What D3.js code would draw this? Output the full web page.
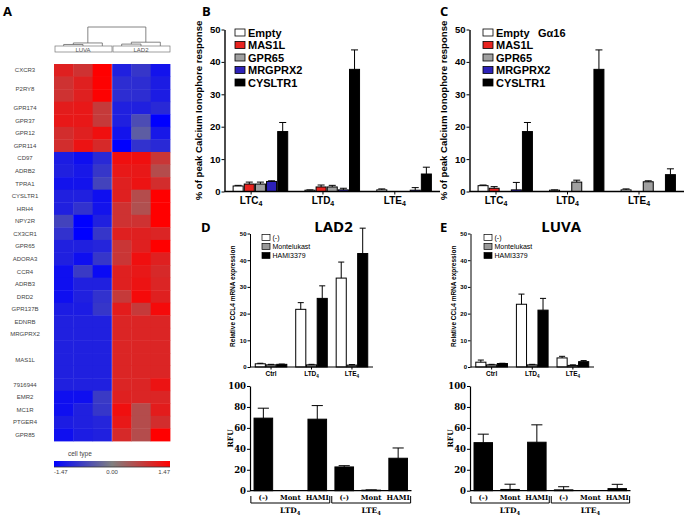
<!DOCTYPE html>
<html>
<head>
<meta charset="utf-8">
<title>Leukotriene receptor figure</title>
<script src="https://cdn.jsdelivr.net/npm/d3@7"></script>
<style>
  body { margin: 0; background: #fff; }
  svg text { font-family: "Liberation Sans", Arial, sans-serif; }
</style>
</head>
<body>
<svg id="fig" width="685" height="516"></svg>
<script>
// ---- data: panel A heatmap ----
const hmSamples = ["LUVA", "LUVA", "LUVA", "LAD2", "LAD2", "LAD2"];
const hmGenes = ["CXCR3", "P2RY8", "P2RY8", "GPR174", "GPR37", "GPR12", "GPR114", "CD97", "ADRB2", "TPRA1",
  "CYSLTR1", "HRH4", "NPY2R", "CX3CR1", "GPR65", "ADORA3", "CCR4", "ADRB3", "DRD2", "GPR137B",
  "EDNRB", "MRGPRX2", "MAS1L", "MAS1L", "MAS1L", "7916944", "EMR2", "MC1R", "PTGER4", "GPR85"];
const hmValues = [
  [1.1, 0.9, 1.47, -1.1, -0.85, -1.25],
  [0.9, 1.1, 1.45, -0.95, -0.95, -1.15],
  [0.9, 1.1, 1.45, -0.95, -0.95, -1.15],
  [1.15, 1.2, 0.8, -1.1, -1.1, -1.0],
  [1.2, 1.2, 0.8, -1.1, -0.6, -1.47],
  [0.95, 1.1, 1.3, -1.25, -0.4, -1.2],
  [0.95, 1.25, 1.0, -1.47, -0.9, -1.0],
  [-1.15, -1.3, -1.0, 1.3, 1.3, 0.85],
  [-1.1, -1.2, -0.85, 1.2, 1.2, 0.6],
  [-1.25, -1.25, -0.7, 1.1, 1.25, 0.95],
  [-1.1, -1.1, -1.3, 1.1, 0.6, 1.47],
  [-1.1, -0.9, -1.25, 0.9, 0.55, 1.47],
  [-0.7, -1.47, -1.1, 0.9, 0.9, 1.47],
  [-0.9, -1.47, -0.85, 1.1, 1.1, 1.05],
  [-1.1, -1.1, -1.05, 0.85, 1.1, 1.47],
  [-1.1, -1.3, -0.85, 0.85, 1.3, 1.1],
  [-1.3, -0.8, -1.35, 1.1, 1.2, 1.0],
  [-1.3, -1.1, -1.1, 1.1, 1.25, 1.05],
  [-1.3, -1.1, -0.9, 0.8, 1.35, 1.1],
  [-1.15, -1.15, -0.85, 1.15, 0.8, 1.35],
  [-1.1, -1.1, -1.1, 1.05, 1.05, 1.05],
  [-1.1, -1.1, -1.1, 1.05, 1.05, 1.05],
  [-1.1, -1.1, -1.1, 1.05, 1.05, 1.05],
  [-1.1, -1.1, -1.1, 1.05, 1.05, 1.05],
  [-1.1, -1.1, -1.1, 1.05, 1.05, 1.05],
  [-1.1, -1.1, -1.1, 1.05, 1.05, 1.25],
  [-1.3, -1.3, -0.8, 1.1, 1.05, 1.05],
  [-1.3, -1.1, -0.85, 1.3, 0.6, 1.15],
  [-1.15, -1.1, -1.05, 1.2, 0.6, 0.95],
  [-1.3, -1.15, -1.1, 1.0, 0.6, 1.47]
];
const hmLegendTicks = [-1.47, 0, 1.47];
// dendrogram merge heights (relative)
const dendroTree = {h: 1, children: [
  {h: 0.16, children: [{h: 0.08, children: [{col: 0}, {col: 1}]}, {col: 2}]},
  {h: 0.2, children: [{h: 0.1, children: [{col: 3}, {col: 4}]}, {col: 5}]}
]};

// ---- data: panels B and C (calcium flux) ----
const ltCats = ["LTC4", "LTD4", "LTE4"];
const receptors = ["Empty", "MAS1L", "GPR65", "MRGPRX2", "CYSLTR1"];
const calcTicks = [0, 10, 20, 30, 40, 50];
const calcB = [[1.7, 2.3, 2.3, 3.1, 18.5], [0.4, 1.4, 1.4, 0.5, 37.7], [0.5, 0, 0, 0.4, 5.4]];
const calcBErr = [[0.2, 0.6, 0.6, 0.2, 2.8], [0.1, 0.6, 0.5, 0.5, 6.0], [0.3, 0, 0, 0.8, 2.1]];
const calcC = [[1.8, 1.0, 0, 0.5, 18.5], [0.4, 0, 2.9, 0, 37.7], [0.5, 0, 3.0, 0, 5.2]];
const calcCErr = [[0.2, 0.5, 0, 2.3, 2.8], [0.1, 0, 0.6, 0, 6.0], [0.3, 0, 0.3, 0, 1.8]];

// ---- data: panels D and E (CCL4 mRNA) ----
const mrnaCats = ["Ctrl", "LTD4", "LTE4"];
const treatments = ["(-)", "Montelukast", "HAMI3379"];
const mrnaTicks = [0, 10, 20, 30, 40, 50];
const lad2Mrna = [[1.2, 0.8, 1.0], [21.6, 0.8, 25.7], [33.3, 0.7, 42.5]];
const lad2MrnaErr = [[0.2, 0.2, 0.1], [2.5, 0.2, 4.7], [6.0, 0.2, 9.5]];
const luvaMrna = [[1.8, 0.8, 1.3], [23.5, 0.8, 21.3], [3.4, 0.6, 2.0]];
const luvaMrnaErr = [[0.8, 0.2, 0.1], [3.8, 0.2, 4.4], [0.6, 0.2, 0.4]];

// ---- data: panels D and E (RFU) ----
const rfuLabels = ["(-)", "Mont", "HAMI", "(-)", "Mont", "HAMI"];
const rfuGroups = [{name: "LTD4", from: 0, to: 2}, {name: "LTE4", from: 3, to: 5}];
const rfuTicks = [0, 20, 40, 60, 80, 100];
const lad2Rfu = [69.3, 0, 68.3, 22.7, 0.5, 31];
const lad2RfuErr = [9.5, 0, 13, 1.2, 0.3, 9.8];
const luvaRfu = [45.9, 1.2, 46.3, 0.8, 0, 2.0];
const luvaRfuErr = [8.1, 5.0, 16.6, 3.0, 0, 4.1];

// ---- styles ----
const recColors = ["#ffffff", "#e8231f", "#a0a0a0", "#2d21b8", "#000000"];
const treatColors = ["#ffffff", "#999999", "#000000"];
const serif = "'DejaVu Serif', serif";

const svg = d3.select("#fig");

function subLabel(sel) {
  sel.each(function(d) {
    const t = d3.select(this);
    const m = String(d).match(/^(LT[A-Z])(\d)$/);
    t.text(null);
    if (m) {
      t.append("tspan").text(m[1]);
      t.append("tspan").attr("font-size", "70%").attr("dy", "0.35em").text(m[2]);
    } else {
      t.text(d);
    }
  });
}

function errorBars(g, rows, xc, y, capW) {
  g.selectAll(null).data(rows.filter(d => d.e > 0)).join("path")
    .attr("d", d => `M${xc(d)},${y(d.v)}V${y(d.v + d.e)}M${xc(d) - capW / 2},${y(d.v + d.e)}h${capW}`)
    .attr("stroke", "#000").attr("stroke-width", 1).attr("fill", "none");
}

// panel letters
const letters = [["A", 3, 16], ["B", 202, 16], ["C", 440, 16], ["D", 201, 232], ["E", 440, 232]];
svg.selectAll("text.letter").data(letters).join("text")
  .attr("x", d => d[1]).attr("y", d => d[2])
  .style("font-family", "'Open Sans', sans-serif").attr("font-weight", "bold").attr("font-size", 13)
  .text(d => d[0]);

// ================= Panel A =================
const hm = svg.append("g");
const hmX = d3.scaleBand().domain(d3.range(hmSamples.length)).range([54, 170]);
const hmY = d3.scaleBand().domain(d3.range(hmGenes.length)).range([64, 441]);
const hmColor = d3.scaleLinear().domain([-1.47, 0, 1.47]).range(["#0000ff", "#808080", "#ff0000"]);

hm.selectAll("g.row").data(hmValues).join("g")
  .each(function(row, i) {
    d3.select(this).selectAll("rect").data(row).join("rect")
      .attr("x", (d, j) => hmX(j)).attr("y", hmY(i))
      .attr("width", hmX.bandwidth() + 0.4).attr("height", hmY.bandwidth() + 0.4)
      .attr("fill", d => hmColor(d));
  });
hm.append("line").attr("x1", hmX(3)).attr("x2", hmX(3)).attr("y1", hmY(0)).attr("y2", hmY.range()[1])
  .attr("stroke", "#e8e8ff").attr("stroke-width", 0.6).attr("opacity", 0.6);

const runs = [];
hmGenes.forEach((g, i) => {
  const last = runs[runs.length - 1];
  if (last && last.name === g) last.end = i; else runs.push({name: g, start: i, end: i});
});
hm.selectAll("text.gene").data(runs).join("text")
  .attr("x", 25).attr("y", d => (hmY(d.start) + hmY(d.end) + hmY.bandwidth()) / 2 + 2.2)
  .attr("text-anchor", "middle").attr("font-size", 6).attr("fill", "#444")
  .text(d => d.name);

// dendrogram
const dY = d3.scaleLinear().domain([0, 1]).range([46, 27]);
const root = d3.hierarchy(dendroTree);
root.eachAfter(n => {
  n.px = n.children ? d3.mean(n.children, c => c.px) : hmX(n.data.col) + hmX.bandwidth() / 2;
  n.py = dY(n.data.h || 0);
});
hm.selectAll("path.link").data(root.descendants().filter(n => n.children)).join("path")
  .attr("d", n => {
    const [a, b] = n.children;
    return `M${a.px},${a.py}V${n.py}H${b.px}V${b.py}`;
  })
  .attr("fill", "none").attr("stroke", "#666").attr("stroke-width", 0.8);

const clusters = Array.from(d3.group(hmSamples.map((s, i) => ({s, i})), d => d.s), ([name, v]) => ({name, from: v[0].i, to: v[v.length - 1].i}));
hm.selectAll("rect.cl").data(clusters).join("rect")
  .attr("x", d => hmX(d.from) + 1).attr("y", 46)
  .attr("width", d => hmX(d.to) + hmX.bandwidth() - hmX(d.from) - 1).attr("height", 6)
  .attr("fill", "#fff").attr("stroke", "#777").attr("stroke-width", 0.7);
hm.selectAll("text.cl").data(clusters).join("text")
  .attr("x", d => (hmX(d.from) + hmX(d.to) + hmX.bandwidth()) / 2).attr("y", 51.5)
  .attr("text-anchor", "middle").attr("font-size", 6).attr("fill", "#555").text(d => d.name);

// colour bar
const grad = svg.append("defs").append("linearGradient").attr("id", "hmgrad");
grad.selectAll("stop").data(d3.range(0, 1.01, 0.1)).join("stop")
  .attr("offset", d => d)
  .attr("stop-color", d => hmColor(-1.47 + d * 2.94));
const cbX = d3.scaleLinear().domain([-1.47, 1.47]).range([54, 170]);
hm.append("text").attr("x", 68).attr("y", 456).attr("font-size", 6.5).attr("fill", "#444").text("cell type");
hm.append("rect").attr("x", 54).attr("y", 461).attr("width", 116).attr("height", 6).attr("fill", "url(#hmgrad)");
hm.append("line").attr("x1", 54).attr("x2", 170).attr("y1", 467).attr("y2", 467).attr("stroke", "#333").attr("stroke-width", 0.8);
hm.selectAll("text.cb").data(hmLegendTicks).join("text")
  .attr("x", d => cbX(d)).attr("y", 474)
  .attr("text-anchor", (d, i) => i === 0 ? "start" : i === hmLegendTicks.length - 1 ? "end" : "middle")
  .attr("font-size", 6).attr("fill", "#444").text(d => d.toFixed(2));

// ================= Panels B, C =================
function calciumPanel(means, sems, o) {
  const g = svg.append("g");
  const x0 = d3.scaleBand().domain(ltCats).range([o.left, o.right]).paddingInner(0.24).paddingOuter(0.12);
  const x1 = d3.scaleBand().domain(receptors).range([0, x0.bandwidth()]).paddingInner(0.1);
  const y = d3.scaleLinear().domain([0, 50]).range([191.5, 29.5]);
  const rows = ltCats.flatMap((c, i) => receptors.map((r, j) => ({c, r, j, v: means[i][j], e: sems[i][j]})));

  g.selectAll("rect.bar").data(rows.filter(d => d.v > 0)).join("rect")
    .attr("x", d => x0(d.c) + x1(d.r)).attr("width", x1.bandwidth())
    .attr("y", d => y(d.v)).attr("height", d => y(0) - y(d.v))
    .attr("fill", d => recColors[d.j]).attr("stroke", "#000").attr("stroke-width", 1);
  errorBars(g, rows, d => x0(d.c) + x1(d.r) + x1.bandwidth() / 2, y, x1.bandwidth() * 0.7);

  const ya = g.append("g").attr("transform", `translate(${o.left},0)`)
    .call(d3.axisLeft(y).tickValues(calcTicks).tickSize(3).tickPadding(1).tickSizeOuter(0));
  ya.select(".domain").attr("stroke-width", 1.4);
  ya.selectAll("text").attr("font-size", 9.5).attr("font-weight", "bold").style("font-family", "'Liberation Sans', Arial, sans-serif");

  g.append("line").attr("x1", o.left).attr("x2", o.right).attr("y1", y(0)).attr("y2", y(0))
    .attr("stroke", "#000").attr("stroke-width", 1.4);
  const lx = c => x0(c) + x0.bandwidth() * 0.33;
  g.selectAll("line.xt").data(ltCats).join("line")
    .attr("x1", lx).attr("x2", lx).attr("y1", y(0)).attr("y2", y(0) + 3).attr("stroke", "#000");
  g.selectAll("text.xl").data(ltCats).join("text")
    .attr("x", lx).attr("y", y(0) + 12).attr("text-anchor", "middle")
    .attr("font-size", 10).attr("font-weight", "bold").call(subLabel);

  g.append("text").attr("transform", `translate(${o.left - 22.5},${(y(0) + y(50)) / 2}) rotate(-90)`)
    .attr("text-anchor", "middle").attr("font-size", 9.6).attr("font-weight", "bold")
    .text("% of peak Calcium Ionophore response");

  const leg = g.selectAll("g.leg").data(receptors).join("g")
    .attr("transform", (d, i) => `translate(${o.legX},${32.5 + i * 12.5})`);
  leg.append("rect").attr("x", 0).attr("y", -3.5).attr("width", 10).attr("height", 7)
    .attr("fill", (d, i) => recColors[i]).attr("stroke", "#000").attr("stroke-width", 0.8);
  leg.append("text").attr("x", 13).attr("y", 4).attr("font-size", 11).attr("font-weight", "bold").text(d => d);
  if (o.note) {
    g.append("text").attr("x", o.note[0]).attr("y", o.note[1]).attr("font-size", 11).attr("font-weight", "bold").text(o.note[2]);
  }
}
calciumPanel(calcB, calcBErr, {left: 224.5, right: 440, legX: 235});
calciumPanel(calcC, calcCErr, {left: 469.5, right: 684, legX: 483, note: [538, 36.5, "G\u03b116"]});

// ================= Panels D, E: mRNA =================
function mrnaPanel(means, sems, o) {
  const g = svg.append("g");
  const x0 = d3.scaleBand().domain(mrnaCats).range([o.left, o.right]).paddingInner(0.22).paddingOuter(0.13);
  const x1 = d3.scaleBand().domain(treatments).range([0, x0.bandwidth()]).paddingInner(0.06);
  const y = d3.scaleLinear().domain([0, 50]).range([367, 233.5]);
  const rows = mrnaCats.flatMap((c, i) => treatments.map((t, j) => ({c, t, j, v: means[i][j], e: sems[i][j]})));

  g.selectAll("rect.bar").data(rows.filter(d => d.v > 0)).join("rect")
    .attr("x", d => x0(d.c) + x1(d.t)).attr("width", x1.bandwidth())
    .attr("y", d => y(d.v)).attr("height", d => y(0) - y(d.v))
    .attr("fill", d => treatColors[d.j]).attr("stroke", "#000").attr("stroke-width", 1);
  errorBars(g, rows, d => x0(d.c) + x1(d.t) + x1.bandwidth() / 2, y, x1.bandwidth() * 0.6);

  const ya = g.append("g").attr("transform", `translate(${o.left},0)`)
    .call(d3.axisLeft(y).tickValues(mrnaTicks).tickSize(2.5).tickPadding(1).tickSizeOuter(0));
  ya.select(".domain").attr("stroke-width", 1);
  ya.selectAll("text").attr("font-size", 6).attr("font-weight", "bold").style("font-family", "'Liberation Sans', Arial, sans-serif");

  g.append("line").attr("x1", o.left).attr("x2", o.right).attr("y1", y(0)).attr("y2", y(0))
    .attr("stroke", "#000").attr("stroke-width", 1);
  const cx = c => x0(c) + x0.bandwidth() / 2;
  g.selectAll("line.xt").data(mrnaCats).join("line")
    .attr("x1", cx).attr("x2", cx).attr("y1", y(0)).attr("y2", y(0) + 2.5).attr("stroke", "#000");
  g.selectAll("text.xl").data(mrnaCats).join("text")
    .attr("x", cx).attr("y", y(0) + 9).attr("text-anchor", "middle")
    .attr("font-size", 6.5).attr("font-weight", "bold").call(subLabel);

  g.append("text").attr("transform", `translate(${o.left - 15},${(y(0) + y(50)) / 2 - 4}) rotate(-90)`)
    .attr("text-anchor", "middle").attr("font-size", 6.5).attr("font-weight", "bold")
    .text("Relative CCL4 mRNA expression");

  const leg = g.selectAll("g.leg").data(treatments).join("g")
    .attr("transform", (d, i) => `translate(${o.legX},${237.5 + i * 9})`);
  leg.append("rect").attr("x", 0).attr("y", -3).attr("width", 8).attr("height", 6)
    .attr("fill", (d, i) => treatColors[i]).attr("stroke", "#000").attr("stroke-width", 0.7);
  leg.append("text").attr("x", 10.5).attr("y", 2.5).attr("font-size", 7).text(d => d);

  g.append("text").attr("x", (o.left + o.right) / 2 + o.titleDx).attr("y", 232)
    .attr("text-anchor", "middle").style("font-family", "'Open Sans', sans-serif")
    .attr("font-size", 15).attr("font-weight", "bold").text(o.title);
}
mrnaPanel(lad2Mrna, lad2MrnaErr, {left: 250, right: 373, legX: 262, title: "LAD2", titleDx: 22});
mrnaPanel(luvaMrna, luvaMrnaErr, {left: 470.5, right: 594, legX: 484, title: "LUVA", titleDx: 29});

// ================= Panels D, E: RFU =================
function rfuPanel(vals, errs, o) {
  const g = svg.append("g");
  const x = d3.scaleBand().domain(d3.range(rfuLabels.length)).range([o.left, o.right]).paddingInner(0.31).paddingOuter(0.15);
  const y = d3.scaleLinear().domain([0, 100]).range([490.7, 386]);
  const rows = vals.map((v, i) => ({i, v, e: errs[i]}));

  g.selectAll("rect.bar").data(rows.filter(d => d.v > 0)).join("rect")
    .attr("x", d => x(d.i)).attr("width", x.bandwidth())
    .attr("y", d => y(d.v)).attr("height", d => y(0) - y(d.v))
    .attr("fill", "#000").attr("stroke", "#000").attr("stroke-width", 1);
  errorBars(g, rows, d => x(d.i) + x.bandwidth() / 2, y, x.bandwidth() * 0.6);

  const ya = g.append("g").attr("transform", `translate(${o.left},0)`)
    .call(d3.axisLeft(y).tickValues(rfuTicks).tickSize(3).tickPadding(1).tickSizeOuter(0));
  ya.select(".domain").attr("stroke-width", 1.2);
  ya.selectAll("text").attr("font-size", 8.5).attr("font-weight", "bold").style("font-family", serif);

  g.append("line").attr("x1", o.left).attr("x2", o.right).attr("y1", y(0)).attr("y2", y(0))
    .attr("stroke", "#000").attr("stroke-width", 1.2);
  g.selectAll("text.xl").data(rfuLabels).join("text")
    .attr("x", (d, i) => x(i) + x.bandwidth() / 2).attr("y", 500)
    .attr("text-anchor", "middle").style("font-family", serif)
    .attr("font-size", 7).attr("font-weight", "bold").text(d => d);

  const gap = x.step() * x.paddingInner() / 2;
  g.selectAll("path.br").data(rfuGroups).join("path")
    .attr("d", d => `M${x(d.from) - gap + 1},496V503H${x(d.to) + x.bandwidth() + gap - 1}V496`)
    .attr("fill", "none").attr("stroke", "#000").attr("stroke-width", 1);
  g.selectAll("text.gl").data(rfuGroups).join("text")
    .attr("x", d => (x(d.from) + x(d.to) + x.bandwidth()) / 2).attr("y", 513)
    .attr("text-anchor", "middle").style("font-family", serif)
    .attr("font-size", 7.5).attr("font-weight", "bold")
    .each(function(d) { d3.select(this).datum(d.name).call(subLabel); });

  g.append("text").attr("transform", `translate(${o.left - 17},${(y(0) + y(100)) / 2}) rotate(-90)`)
    .attr("text-anchor", "middle").style("font-family", serif)
    .attr("font-size", 7.5).attr("font-weight", "bold").text("RFU");
}
rfuPanel(lad2Rfu, lad2RfuErr, {left: 250, right: 411.5});
rfuPanel(luvaRfu, luvaRfuErr, {left: 470, right: 630.5});
</script>
</body>
</html>
